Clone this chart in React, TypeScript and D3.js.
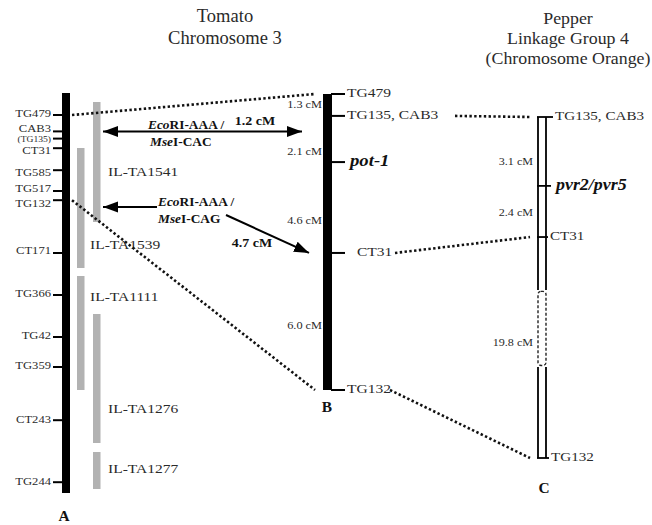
import React from "react";
import * as d3 from "d3";

// ---------------- DATA ----------------
// Tomato chromosome 3 (A): markers and relative positions (0-100 along the bar)
const aMarkers = ["TG479", "CAB3", "(TG135)", "CT31", "TG585", "TG517", "TG132", "CT171", "TG366", "TG42", "TG359", "CT243", "TG244"];
const aPos = [5.5, 9.6, 11.4, 13.8, 19.3, 24.5, 26.8, 40, 50.5, 61, 68.5, 81.8, 97.3];
// label offsets (in the same relative units) where labels are nudged off their ticks
const aLabelShift = [0, -0.4, 0.3, 0.9, 0.9, -0.3, 1.2, -0.4, 0, 0, 0, 0, 0];

// Introgression lines (IL) along A
const ilNames = ["IL-TA1541", "IL-TA1539", "IL-TA1111", "IL-TA1276", "IL-TA1277"];
const ilStart = [2.25, 13.75, 45.75, 55.25, 89.75];
const ilEnd = [32.25, 43.75, 74.25, 87.5, 99];
const ilColumn = [1, 0, 0, 1, 1];
const ilLabelPos = [20, 38.3, 51.2, 79.3, 94.3];

// Tomato high-resolution map (B)
const bMarkers = ["TG479", "TG135, CAB3", "pot-1", "CT31", "TG132"];
const bPos = [0, 7.4, 23, 53.7, 100];
const bIntervals = ["1.3 cM", "2.1 cM", "4.6 cM", "6.0 cM"];
const bIntervalPos = [3.8, 19.8, 43, 78.7];

// Pepper linkage group 4 (C)
const cMarkers = ["TG135, CAB3", "pvr2/pvr5", "CT31", "TG132"];
const cPos = [0, 20.2, 35.2, 100];
const cGap = [50.7, 73.3];
const cIntervals = ["3.1 cM", "2.4 cM", "19.8 cM"];
const cIntervalPos = [13.4, 28.4, 66.3];

// Dotted links between maps: [fromMap, fromIndex, toMap, toIndex]
const links: [string, number, string, number][] = [
  ["A", 0, "B", 0],
  ["A", 6, "B", 4],
  ["B", 1, "C", 0],
  ["B", 3, "C", 2],
  ["B", 4, "C", 3],
];

const titleTomato = ["Tomato", "Chromosome 3"];
const titlePepper = ["Pepper", "Linkage Group 4", "(Chromosome Orange)"];

// ---------------- LAYOUT ----------------
const W = 652;
const H = 525;
const FONT = "'Liberation Serif', 'Times New Roman', serif";
const GREY = "#2a2a2a";

const yA = d3.scaleLinear().domain([0, 100]).range([93, 493]);
const yB = d3.scaleLinear().domain([0, 100]).range([94, 390]);
const yC = d3.scaleLinear().domain([0, 100]).range([117, 458]);

const aBarX = 62, aBarW = 8;
const bBarX = 323, bBarW = 9;
const cL = 538, cR = 546;
const ilColX = [77, 93];
const ilW = 7.5;

type TProps = {
  x: number; y: number; size: number; sx?: number; anchor?: "start" | "middle" | "end";
  weight?: string | number; italic?: boolean; fill?: string; children: React.ReactNode;
};
function T({ x, y, size, sx = 1.2, anchor = "start", weight = "normal", italic = false, fill = GREY, children }: TProps) {
  return (
    <text
      transform={`translate(${x},${y}) scale(${sx},1)`}
      fontFamily={FONT}
      fontSize={size}
      textAnchor={anchor}
      fontWeight={weight}
      fontStyle={italic ? "italic" : "normal"}
      fill={fill}
      dominantBaseline="middle"
    >
      {children}
    </text>
  );
}

function linkEnd(map: string, idx: number, side: "from" | "to"): [number, number] {
  if (map === "A") return [aBarX + aBarW + 2, yA(aPos[idx])];
  if (map === "B") {
    const y = yB(bPos[idx]);
    if (side === "to") return [bBarX - 8, y];
    const labelEnds = [0, 455, 0, 395, 390];
    return [labelEnds[idx], y];
  }
  return [cL - 8, yC(cPos[idx])];
}

function Primer({ x, y, a, b }: { x: number; y: number; a: string; b: string }) {
  return (
    <text transform={`translate(${x},${y}) scale(1.07,1)`} fontFamily={FONT} fontSize={12.5} fontWeight="bold" fill="#111">
      <tspan fontStyle="italic">{a}</tspan>{b}
    </text>
  );
}

export default function App() {
  const dotted = { stroke: "#111", strokeWidth: 2.6, strokeDasharray: "2.4 2.4", fill: "none" };
  const arrowY1 = yA(9.6);
  const arrowY2 = yA(28.5);
  return (
    <svg width={W} height={H} style={{ position: "absolute", left: 0, top: 0, background: "#fff" }}>
      <defs>
        <marker id="ah" markerUnits="userSpaceOnUse" markerWidth={16} markerHeight={12} refX={15} refY={6} orient="auto-start-reverse">
          <path d="M0,0.5 L15,6 L0,11.5 Z" fill="#000" />
        </marker>
      </defs>

      {/* Titles */}
      {titleTomato.map((t, i) => (
        <T key={t} x={225} y={18 + i * 22} size={18} sx={1.03} anchor="middle">{t}</T>
      ))}
      {titlePepper.map((t, i) => (
        <T key={t} x={568} y={20 + i * 20} size={17.5} sx={1.02} anchor="middle">{t}</T>
      ))}

      {/* Chromosome A */}
      <rect x={aBarX} y={yA(0)} width={aBarW} height={yA(100) - yA(0)} fill="#000" />
      {aMarkers.map((m, i) => (
        <g key={m}>
          <line x1={53} x2={aBarX} y1={yA(aPos[i])} y2={yA(aPos[i])} stroke="#000" strokeWidth={2} />
          <T x={51} y={yA(aPos[i] + aLabelShift[i])} size={m === "(TG135)" ? 8 : 10.5} anchor="end">{m}</T>
        </g>
      ))}
      <T x={64} y={518} size={14} sx={1.1} anchor="middle" weight="bold" fill="#111">A</T>

      {/* IL bars */}
      {ilNames.map((n, i) => (
        <g key={n}>
          <rect x={ilColX[ilColumn[i]]} y={yA(ilStart[i])} width={ilW} height={yA(ilEnd[i]) - yA(ilStart[i])} fill="#b2b2b2" />
          <T x={ilColumn[i] === 1 ? 108 : 90} y={yA(ilLabelPos[i])} size={13.5} sx={1.15}>{n}</T>
        </g>
      ))}

      {/* Chromosome B */}
      <rect x={bBarX} y={yB(0)} width={bBarW} height={yB(100) - yB(0)} fill="#000" />
      {bMarkers.map((m, i) => {
        const y = yB(bPos[i]);
        const isGene = m === "pot-1";
        return (
          <g key={m}>
            <line x1={bBarX + bBarW - 1} x2={bBarX + bBarW + 13} y1={y} y2={y} stroke="#000" strokeWidth={2} />
            {isGene ? (
              <T x={bBarX + bBarW + 18} y={y} size={17} sx={1.1} weight="bold" italic fill="#111">{m}</T>
            ) : (
              <T x={bBarX + bBarW + (m === "CT31" ? 25 : 15)} y={y} size={13.5} sx={1.15}>{m}</T>
            )}
          </g>
        );
      })}
      {bIntervals.map((t, i) => (
        <T key={t} x={bBarX - 1} y={yB(bIntervalPos[i])} size={11} sx={1.12} anchor="end">{t}</T>
      ))}
      <T x={327} y={409} size={14} sx={1.1} anchor="middle" weight="bold" fill="#111">B</T>

      {/* Chromosome C */}
      {[cL, cR].map((x) => (
        <g key={x}>
          <line x1={x} x2={x} y1={yC(0)} y2={yC(cGap[0])} stroke="#000" strokeWidth={1.8} />
          <line x1={x} x2={x} y1={yC(cGap[1])} y2={yC(100)} stroke="#000" strokeWidth={1.8} />
        </g>
      ))}
      <rect
        x={cL}
        y={yC(cGap[0]) + 1.5}
        width={cR - cL}
        height={yC(cGap[1]) - yC(cGap[0]) - 3}
        rx={3}
        fill="none"
        stroke="#222"
        strokeWidth={1.4}
        strokeDasharray="3 2"
      />
      {cMarkers.map((m, i) => {
        const y = yC(cPos[i]);
        const isGene = m === "pvr2/pvr5";
        const tickEnd = [553, 551, 548, 549][i];
        return (
          <g key={m}>
            <line x1={cL - 1} x2={tickEnd} y1={y} y2={y} stroke="#000" strokeWidth={1.8} />
            {isGene ? (
              <T x={556} y={y} size={16} sx={1.12} weight="bold" italic fill="#111">{m}</T>
            ) : (
              <T x={tickEnd + 2} y={y} size={13.5} sx={1.12}>{m}</T>
            )}
          </g>
        );
      })}
      {cIntervals.map((t, i) => (
        <T key={t} x={533} y={yC(cIntervalPos[i])} size={11} sx={1.1} anchor="end">{t}</T>
      ))}
      <T x={544} y={490} size={14} sx={1.1} anchor="middle" weight="bold" fill="#111">C</T>

      {/* Dotted links */}
      {links.map(([fm, fi, tm, ti], k) => {
        const [x1, y1] = linkEnd(fm, fi, "from");
        const [x2, y2] = linkEnd(tm, ti, "to");
        return <line key={k} x1={x1} y1={y1} x2={x2} y2={y2} {...dotted} />;
      })}

      {/* Arrow 1 : EcoRI-AAA / MseI-CAC, 1.2 cM */}
      <line x1={103} x2={302} y1={arrowY1} y2={arrowY1} stroke="#000" strokeWidth={2} markerStart="url(#ah)" markerEnd="url(#ah)" />
      <Primer x={148} y={arrowY1 - 2} a="Eco" b="RI-AAA /" />
      <Primer x={150} y={arrowY1 + 15} a="Mse" b="I-CAC" />
      <text transform={`translate(255,${arrowY1 - 6}) scale(1.12,1)`} fontFamily={FONT} fontSize={12.5} fontWeight="bold" textAnchor="middle" fill="#111">1.2 cM</text>

      {/* Arrow 2 : EcoRI-AAA / MseI-CAG, 4.7 cM */}
      <line x1={103} x2={157} y1={arrowY2} y2={arrowY2} stroke="#000" strokeWidth={2} markerStart="url(#ah)" />
      <Primer x={158} y={arrowY2 - 1} a="Eco" b="RI-AAA /" />
      <Primer x={158} y={arrowY2 + 16} a="Mse" b="I-CAG" />
      <line x1={226} y1={arrowY2 + 8} x2={309} y2={yB(bPos[3])} stroke="#000" strokeWidth={2} markerEnd="url(#ah)" />
      <text transform={`translate(252,${arrowY2 + 40}) scale(1.12,1)`} fontFamily={FONT} fontSize={12.5} fontWeight="bold" textAnchor="middle" fill="#111">4.7 cM</text>
    </svg>
  );
}
